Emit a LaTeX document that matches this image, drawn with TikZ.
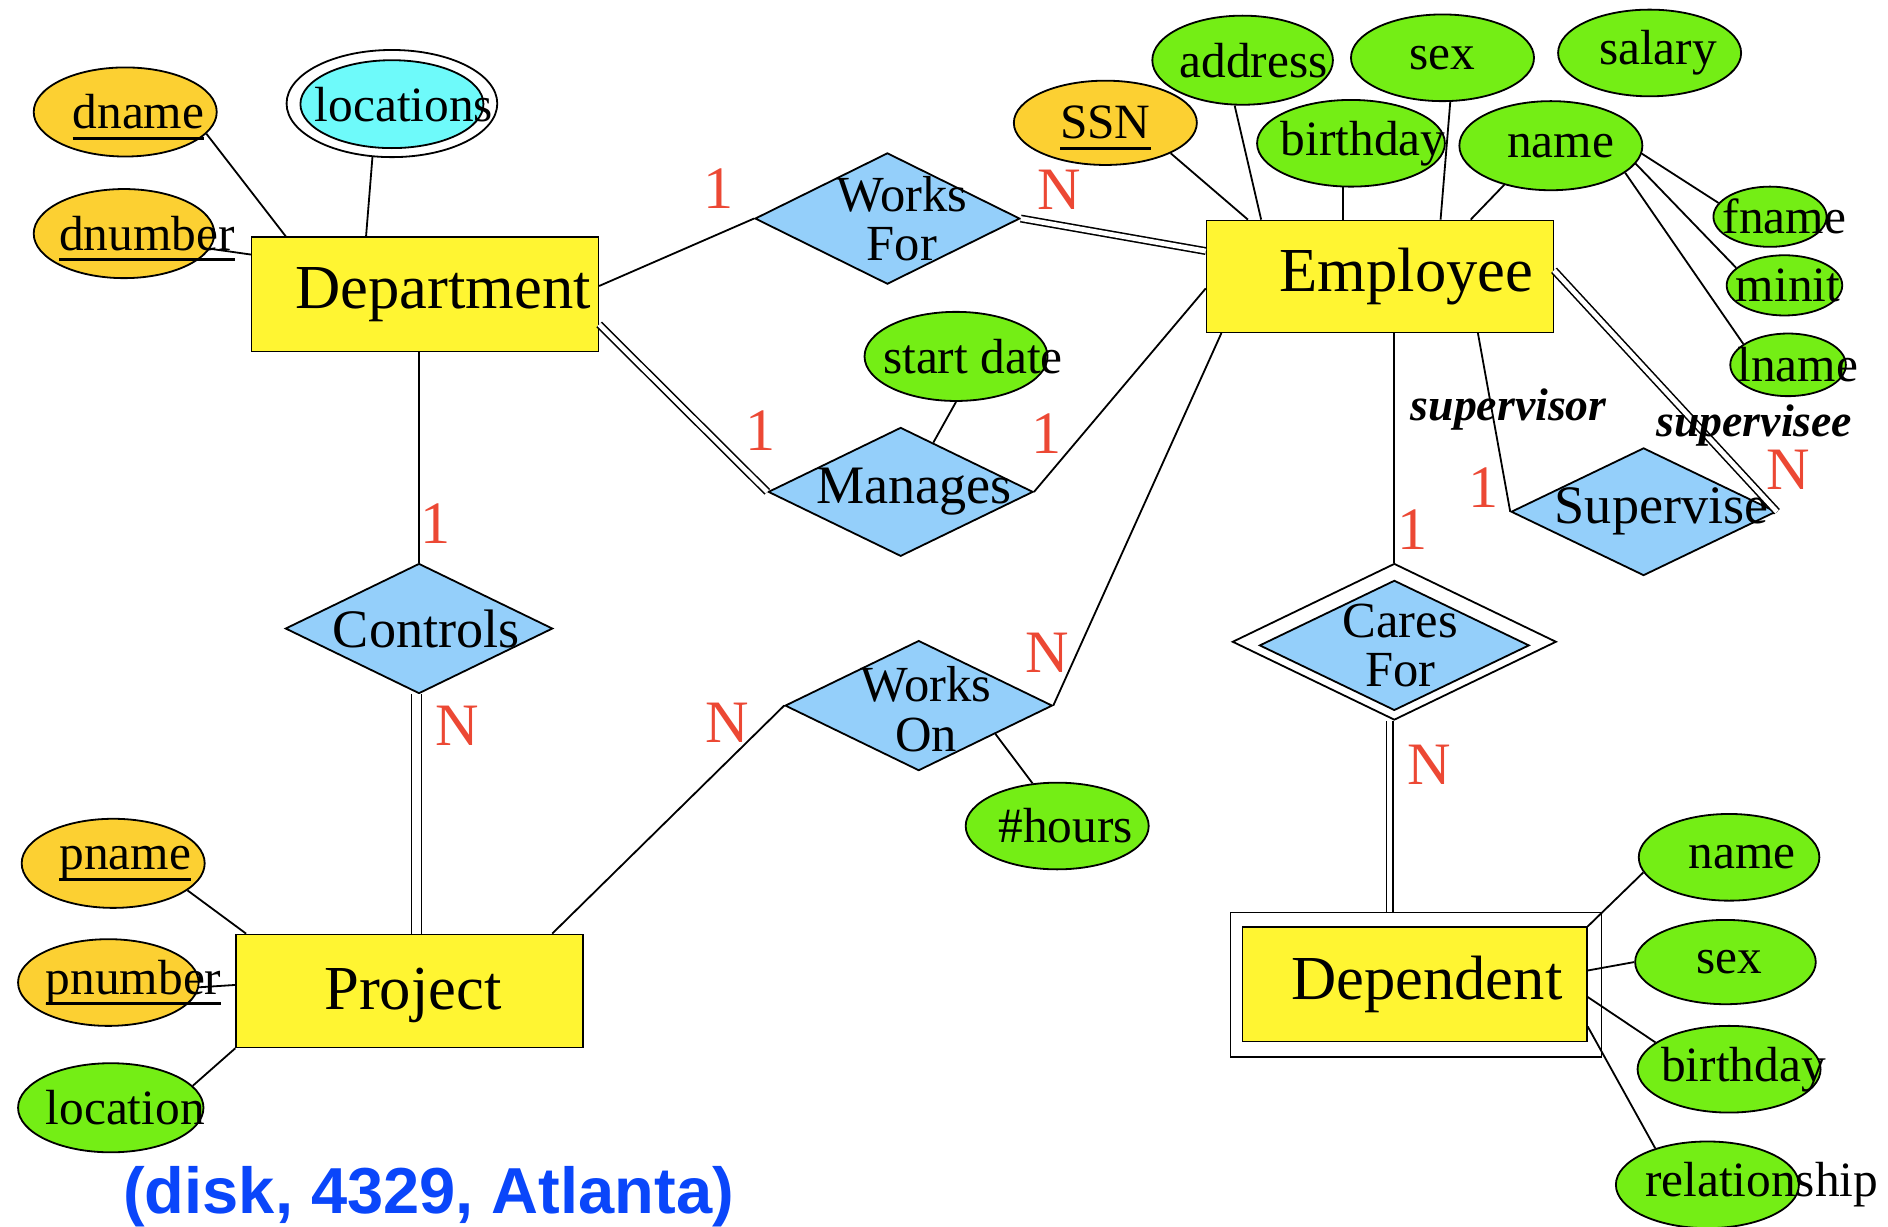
\documentclass[tikz,border=0pt]{standalone}
\usepackage{fontspec}
\setmainfont{Liberation Serif}
\newfontfamily\capfont{Liberation Sans}
\usetikzlibrary{shapes.geometric,calc}

\definecolor{entfill}{RGB}{255,245,50}
\definecolor{keyfill}{RGB}{252,208,50}
\definecolor{attfill}{RGB}{116,238,21}
\definecolor{relfill}{RGB}{148,207,250}
\definecolor{mvfill}{RGB}{110,250,250}
\definecolor{cardred}{RGB}{236,72,52}
\definecolor{capblue}{RGB}{10,70,250}

% key attributes: text with a heavy underline that does not change the box
\newcommand\keyattr[1]{\setbox0\hbox{#1}\rlap{\raisebox{-9pt}[0pt][0pt]{\rule{\wd0}{2.4pt}}}\box0}

% attribute ellipse: style, name, x, y, width, height, text shift, text
\newcommand\erattr[8]{\node[#1, minimum width=#5pt, minimum height=#6pt,
  label={[attxt,xshift=#7pt]center:#8}] (#2) at (#3,#4) {};}

\tikzset{
  conn/.style={line width=1.5pt},
  dbl/.style={line width=1.3pt, double=white, double distance=4pt},
  entity/.style={rectangle, draw, line width=1.2pt, fill=entfill, inner sep=0pt},
  attrib/.style={ellipse, draw, line width=1.5pt, fill=attfill, inner sep=0pt},
  keyat/.style={attrib, fill=keyfill},
  relbox/.style={diamond, draw, line width=1.5pt, fill=relfill, inner sep=0pt},
  attxt/.style={font=\fontsize{41}{41}\selectfont, inner sep=0pt},
  enttxt/.style={font=\fontsize{52}{52}\selectfont, inner sep=0pt},
  reltxt/.style={font=\fontsize{45}{40}\selectfont, inner sep=0pt, align=center},
  reltwo/.style={font=\fontsize{42}{41}\selectfont, inner sep=0pt, align=center},
  card/.style={text=cardred, font=\fontsize{50}{50}\selectfont, inner sep=0pt},
  role/.style={font=\fontsize{38}{38}\selectfont\bfseries\itshape, inner sep=0pt},
}

\begin{document}
\begin{tikzpicture}[x=1pt,y=-1pt]
\path[use as bounding box, fill=white] (0,0) rectangle (1568,1019);

% entities
\node[entity, minimum width=288pt, minimum height=95pt,
  label={[enttxt,xshift=15pt]center:Department}] (dept) at (353,244.5) {};
\node[entity, minimum width=288pt, minimum height=93pt,
  label={[enttxt,xshift=22pt]center:Employee}] (emp) at (1146,229.5) {};
\node[entity, minimum width=288pt, minimum height=94pt,
  label={[enttxt,xshift=3pt,yshift=-4pt]center:Project}] (proj) at (340,823) {};
\node[rectangle, draw, line width=1.2pt, fill=white, minimum width=308pt,
  minimum height=120pt, inner sep=0pt] (depo) at (1176,818) {};
\node[entity, minimum width=286pt, minimum height=95pt,
  label={[enttxt,xshift=10pt]center:Dependent}] (depi) at (1175,817.5) {};

% relationships
\node[relbox, minimum width=220pt, minimum height=109pt,
  label={[reltwo,xshift=12pt]center:Works\\For}] (wf) at (737,181.5) {};
\node[relbox, minimum width=220pt, minimum height=107pt,
  label={[reltxt,xshift=11pt]center:Manages}] (man) at (748,408.5) {};
\node[relbox, minimum width=222pt, minimum height=108pt,
  label={[reltxt,xshift=6pt]center:Controls}] (ctrl) at (348,522) {};
\node[relbox, minimum width=222pt, minimum height=108pt,
  label={[reltwo,xshift=6pt,yshift=-3pt]center:Works\\On}] (won) at (763,586) {};
\node[relbox, minimum width=220pt, minimum height=106pt,
  label={[reltxt,xshift=15pt]center:Supervise}] (sup) at (1365,425) {};
\node[diamond, draw, line width=1.5pt, fill=white, minimum width=269pt,
  minimum height=130pt, inner sep=0pt] (cfo) at (1158,533) {};
\node[relbox, minimum width=224pt, minimum height=108pt,
  label={[reltwo,xshift=5pt]center:Cares\\For}] (cfi) at (1158,536) {};

% department attributes
\erattr{keyat}{dname}{104}{93}{152}{74}{11}{\keyattr{dname}}
\erattr{keyat}{dnum}{103}{194}{150}{74}{19}{\keyattr{dnumber}}
\node[ellipse, draw, line width=1.5pt, fill=white, minimum width=175pt,
  minimum height=89pt, inner sep=0pt] (loco) at (325.5,86) {};
\node[ellipse, draw, line width=1.5pt, fill=mvfill, minimum width=152pt,
  minimum height=73pt, inner sep=0pt,
  label={[attxt,xshift=10pt]center:locations}] (loci) at (325.5,86.5) {};

% employee attributes
\erattr{attrib}{eaddr}{1032}{50}{150}{74}{9}{address}
\erattr{attrib}{esex}{1198}{48}{152}{72}{0}{sex}
\erattr{attrib}{esal}{1370}{44}{152}{72}{7}{salary}
\erattr{attrib}{ebday}{1122}{119}{156}{72}{10}{birthday}
\erattr{attrib}{ename}{1288}{121}{152}{74}{8}{name}
\erattr{keyat}{ssn}{918}{102}{152}{70}{0}{\keyattr{SSN}}
\erattr{attrib}{efn}{1470}{180}{94}{50}{12}{fname}
\erattr{attrib}{emi}{1482}{237}{96}{50}{3}{minit}
\erattr{attrib}{eln}{1485}{303}{96}{52}{8}{lname}

% relationship attributes
\erattr{attrib}{sdate}{794}{296}{152}{74}{14}{start date}
\erattr{attrib}{hours}{878}{686}{152}{72}{7}{\#hours}

% project attributes
\erattr{keyat}{pname}{94}{717}{152}{74}{10}{\keyattr{pname}}
\erattr{keyat}{pnum}{90}{816}{150}{72}{21}{\keyattr{pnumber}}
\erattr{attrib}{ploc}{92}{920}{154}{74}{12}{location}

% dependent attributes
\erattr{attrib}{dpname}{1436}{712}{150}{72}{11}{name}
\erattr{attrib}{dpsex}{1433}{799}{150}{70}{3}{sex}
\erattr{attrib}{dpbday}{1436}{888}{152}{72}{12}{birthday}
\erattr{attrib}{dprel}{1418}{984}{152}{72}{45}{relationship}

% attribute links
\draw[conn] (dname.-15) -- ($(dept.north west)+(29,0)$);
\draw[conn] (loco.-110) -- ($(dept.north)+(-49,0)$);
\draw[conn] (dnum.-10) -- ($(dept.north west)+(0,15)$);
\draw[conn] (ssn.-25) -- ($(emp.north west)+(35,0)$);
\draw[conn] (eaddr.-100) -- ($(emp.north west)+(46,0)$);
\draw[conn] (ebday.-100) -- (ebday.-100 |- emp.north);
\draw[conn] (esex.-80) -- ($(emp.north west)+(195,0)$);
\draw[conn] (ename.-140) -- ($(emp.north west)+(220,0)$);
\draw[conn] (ename.-5) -- (efn.165);
\draw[conn] (ename.-12) -- (emi.160);
\draw[conn] (ename.-20) -- (eln.155);
\draw[conn] (sdate.south) -- ($(man.north)!0.245!(man.east)$);
\draw[conn] ($(won.east)!0.43!(won.south)$) -- (hours.120);
\draw[conn] (pname.-20) -- ($(proj.north west)+(9,0)$);
\draw[conn] (pnum.-3) -- ($(proj.west)+(0,-5)$);
\draw[conn] (ploc.15) -- (proj.south west);
\draw[conn] (dpname.-170) -- (depi.north east);
\draw[conn] ($(depi.east)+(0,-11.5)$) -- (dpsex.west);
\draw[conn] ($(depi.east)+(0,10.5)$) -- (dpbday.160);
\draw[conn] ($(depi.east)+(0,35)$) -- (dprel.145);

% relationship links
\draw[conn] ($(dept.east)+(0,-7)$) -- (wf.west);
\draw[dbl] (wf.east) -- ($(emp.west)+(0,-21)$);
\draw[dbl] ($(dept.east)+(0,25)$) -- (man.west);
\draw[conn] (man.east) -- ($(emp.west)+(0,10)$);
\draw[conn] (dept.south -| ctrl.north) -- (ctrl.north);
\draw[dbl, double distance=7pt] ($(ctrl.south)+(-2,0)$) -- ($(ctrl.south |- proj.north)+(-2,0)$);
\draw[conn] ($(proj.north east)+(-26,0)$) -- (won.west);
\draw[conn] (won.east) -- ($(emp.south west)+(13,0)$);
\draw[conn] ($(emp.south west)+(226,0)$) -- (sup.west);
\draw[dbl] ($(emp.east)+(0,-5)$) -- (sup.east);
\draw[conn] (cfo.north |- emp.south) -- (cfo.north);
\draw[dbl] ($(cfo.south)+(-4,0)$) -- ($(cfo.south |- depo.north)+(-4,0)$);

% cardinalities
\node[card] (cwf1) at (597,157) {1};
\node[card] (cwfn) at (880,158) {N};
\node[card] (cman1) at (632,358) {1};
\node[card] (cman2) at (869,360) {1};
\node[card] (cctl1) at (362,435) {1};
\node[card] (cctln) at (380,603) {N};
\node[card] (cwon1) at (604,600) {N};
\node[card] (cwon2) at (870,542) {N};
\node[card] (csup1) at (1232,405) {1};
\node[card] (csupn) at (1485,390) {N};
\node[card] (ccf1) at (1173,440) {1};
\node[card] (ccfn) at (1187,635) {N};

% roles
\node[role] (rsor) at (1253,340) {supervisor};
\node[role] (rsee) at (1457,353) {supervisee};

% example tuple
\node[font=\capfont\bfseries\fontsize{54}{54}\selectfont, text=capblue,
  anchor=base, inner sep=0pt] (tuple) at (356,1008) {(disk, 4329, Atlanta)};
\end{tikzpicture}
\end{document}
